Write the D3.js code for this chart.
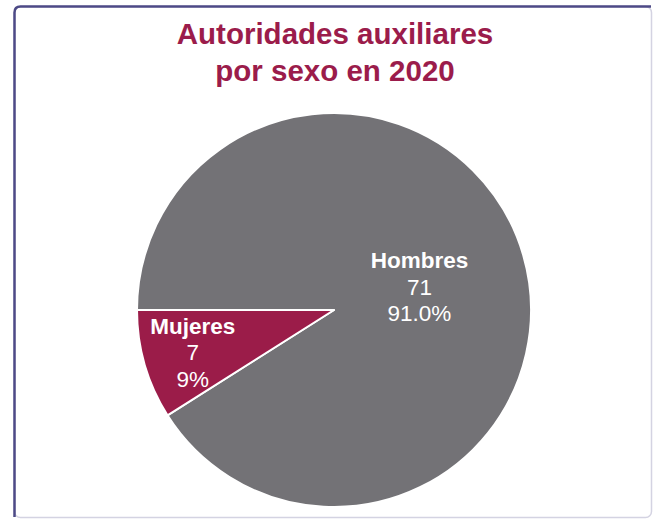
<!DOCTYPE html>
<html>
<head>
<meta charset="utf-8">
<script src="https://cdn.jsdelivr.net/npm/d3@7"></script>
<style>
  html, body { margin: 0; padding: 0; background: #ffffff; }
  svg { display: block; }
</style>
</head>
<body>
<svg id="chart" width="656" height="520"></svg>
<script>
const titleLines = ["Autoridades auxiliares", "por sexo en 2020"];
const categories = ["Hombres", "Mujeres"];
const values = [71, 7];
const percentLabels = ["91.0%", "9%"];
const colors = ["#737276", "#9b1c49"];

const W = 656, H = 520;
const svg = d3.select("#chart");

// frame
svg.append("rect")
  .attr("x", 14.5).attr("y", 6.5).attr("width", 637).attr("height", 511)
  .attr("rx", 6).attr("fill", "#ffffff")
  .attr("stroke", "#d4d3e2").attr("stroke-width", 1.5);
svg.append("path")
  .attr("d", "M14.5,517 L14.5,12.5 Q14.5,6.5 20.5,6.5 L651,6.5")
  .attr("fill", "none").attr("stroke", "#4d4a86").attr("stroke-width", 2.5);

// title
svg.append("text")
  .attr("x", 335).attr("text-anchor", "middle")
  .attr("font-family", "'Liberation Sans', Arial, sans-serif")
  .attr("font-weight", "bold").attr("font-size", 29.5)
  .attr("fill", "#9b1c4b")
  .selectAll("tspan").data(titleLines).join("tspan")
  .attr("x", 335).attr("y", (d, i) => 44 + i * 37)
  .text(d => d);

// pie
const cx = 334, cy = 310, R = 197;
const data = categories.map((c, i) => ({ cat: c, value: values[i], pct: percentLabels[i], color: colors[i] }));
const pie = d3.pie().value(d => d.value).sort(null)
  .startAngle(-Math.PI / 2).endAngle(3 * Math.PI / 2);
const arcs = pie(data);
const arc = d3.arc().innerRadius(0).outerRadius(R);
const labelRadius = { "Hombres": 89, "Mujeres": 147 };

const g = svg.append("g").attr("transform", `translate(${cx},${cy})`);
g.selectAll("path.slice").data(arcs).join("path")
  .attr("class", "slice")
  .attr("d", arc)
  .attr("fill", d => d.data.color)
  .attr("stroke", "#ffffff").attr("stroke-width", 2)
  .attr("stroke-linejoin", "round");

const labels = g.selectAll("text.lbl").data(arcs).join("text")
  .attr("class", "lbl")
  .attr("text-anchor", "middle")
  .attr("font-family", "'Liberation Sans', Arial, sans-serif")
  .attr("fill", "#ffffff")
  .attr("font-size", 22.5)
  .attr("transform", d => {
    const r = labelRadius[d.data.cat];
    const c = d3.arc().innerRadius(r).outerRadius(r).centroid(d);
    return `translate(${c[0]},${c[1]})`;
  });
labels.each(function(d) {
  const t = d3.select(this);
  const lines = [
    { text: d.data.cat, bold: true },
    { text: String(d.data.value), bold: false },
    { text: d.data.pct, bold: false }
  ];
  lines.forEach((ln, i) => {
    t.append("tspan")
      .attr("x", 0)
      .attr("y", -17 + i * 26.5)
      .attr("font-weight", ln.bold ? "bold" : "normal")
      .text(ln.text);
  });
});
</script>
</body>
</html>
